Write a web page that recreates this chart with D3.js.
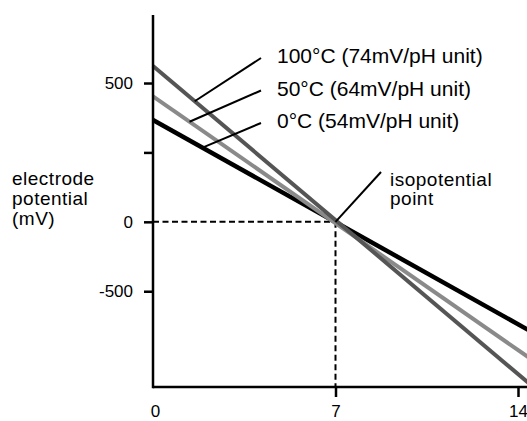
<!DOCTYPE html>
<meta charset="utf-8">
<html><head>
<style>
body { margin: 0; background: #fff; }
text {
  font-family: "Liberation Sans", Arial, Helvetica, sans-serif;
  fill: #000;
}
.note { font-size: 19px; letter-spacing: 0.5px; }
.temp { font-size: 21px; }
</style>
</head>
<body>
<svg width="527" height="421"></svg>
<script src="https://cdn.jsdelivr.net/npm/d3@7"></script>
<script>

// pH positions where each line is sampled
var pH = [0, 14.4];

// electrode potential (mV) at those pH values
var series = [
  { name: "100°C (74mV/pH unit)", color: "#555555", width: 4,   values: [561, -580], labelAt: 1.6 },
  { name: "50°C (64mV/pH unit)",  color: "#8a8a8a", width: 4,   values: [452, -488], labelAt: 1.4 },
  { name: "0°C (54mV/pH unit)",   color: "#000000", width: 4.5, values: [367, -390], labelAt: 1.9 }
];

var xTicks = [0, 7, 14];
var yTicks = [500, 250, 0, -250];
var yTickLabels = ["500", "", "0", "-500"];

var isoPH = 7, isoMV = 0;

var svg = d3.select("svg"),
    width = +svg.attr("width"),
    height = +svg.attr("height");

var x = d3.scaleLinear().domain([0, 14]).range([153, 518]);
var y = d3.scaleLinear().domain([-595, 745]).range([387, 15]);

// dashed guides to the isopotential point
var guide = svg.append("g")
    .attr("stroke", "#000")
    .attr("stroke-width", 2)
    .attr("stroke-dasharray", "6,3.5");
guide.append("line")
    .attr("x1", x(0)).attr("y1", y(isoMV))
    .attr("x2", x(isoPH)).attr("y2", y(isoMV));
guide.append("line")
    .attr("x1", x(isoPH)).attr("y1", y(isoMV))
    .attr("x2", x(isoPH)).attr("y2", y.range()[0]);

// the three lines
var line = d3.line()
    .x(function(d, i) { return x(pH[i]); })
    .y(function(d) { return y(d); });

svg.append("g")
  .selectAll("path")
  .data(series.slice().reverse())
  .enter().append("path")
    .attr("fill", "none")
    .attr("stroke", function(d) { return d.color; })
    .attr("stroke-width", function(d) { return d.width; })
    .attr("d", function(d) { return line(d.values); });

// axes
var yAxis = svg.append("g")
    .attr("transform", "translate(" + x(0) + ",0)")
    .call(d3.axisLeft(y).tickValues(yTicks).tickSize(9).tickPadding(11)
      .tickFormat(function(d, i) { return yTickLabels[i]; }));
yAxis.select(".domain").remove();
yAxis.selectAll(".tick line").attr("stroke-width", 2.5);

var xAxis = svg.append("g")
    .attr("transform", "translate(0," + y.range()[0] + ")")
    .call(d3.axisBottom(x).tickValues(xTicks).tickSize(10).tickPadding(8)
      .tickFormat(d3.format("d")));
xAxis.select(".domain").remove();
xAxis.selectAll(".tick line")
    .attr("stroke-width", 2.5)
    .attr("opacity", function(d) { return d === 0 ? 0 : 1; });
xAxis.selectAll(".tick text")
    .attr("dx", function(d) { return d === 0 ? 2 : 0; });

svg.selectAll(".tick text").attr("font-family", null).style("font-size", "17px");

svg.append("line")
    .attr("x1", x(0)).attr("x2", x(0))
    .attr("y1", y.range()[1]).attr("y2", y.range()[0] + 1.25)
    .attr("stroke", "#000").attr("stroke-width", 2.5);
svg.append("line")
    .attr("x1", x(0)).attr("x2", width)
    .attr("y1", y.range()[0]).attr("y2", y.range()[0])
    .attr("stroke", "#000").attr("stroke-width", 2.5);

// labels with leader lines
var labelX = 277, leaderX = 261;
var labelY = [63, 95.5, 128];

var notes = svg.append("g");
series.forEach(function(s, i) {
  var px = s.labelAt;
  var mv = s.values[0] + (s.values[1] - s.values[0]) * (px - pH[0]) / (pH[1] - pH[0]);
  notes.append("line")
      .attr("x1", leaderX).attr("y1", labelY[i] - 5)
      .attr("x2", x(px)).attr("y2", y(mv))
      .attr("stroke", "#000").attr("stroke-width", 2);
  notes.append("text")
      .attr("class", "temp")
      .attr("x", labelX).attr("y", labelY[i])
      .text(s.name);
});

notes.append("line")
    .attr("x1", 381).attr("y1", 172)
    .attr("x2", x(isoPH)).attr("y2", y(isoMV))
    .attr("stroke", "#000").attr("stroke-width", 2);
notes.append("text").attr("class", "note").attr("x", 390).attr("y", 186).text("isopotential");
notes.append("text").attr("class", "note").attr("x", 390).attr("y", 205).text("point");

var yTitle = ["electrode", "potential", "(mV)"];
notes.selectAll(".ytitle")
  .data(yTitle)
  .enter().append("text")
    .attr("class", "note")
    .attr("x", 12)
    .attr("y", function(d, i) { return 185 + i * 20; })
    .text(function(d) { return d; });

</script>
</body>
</html>
